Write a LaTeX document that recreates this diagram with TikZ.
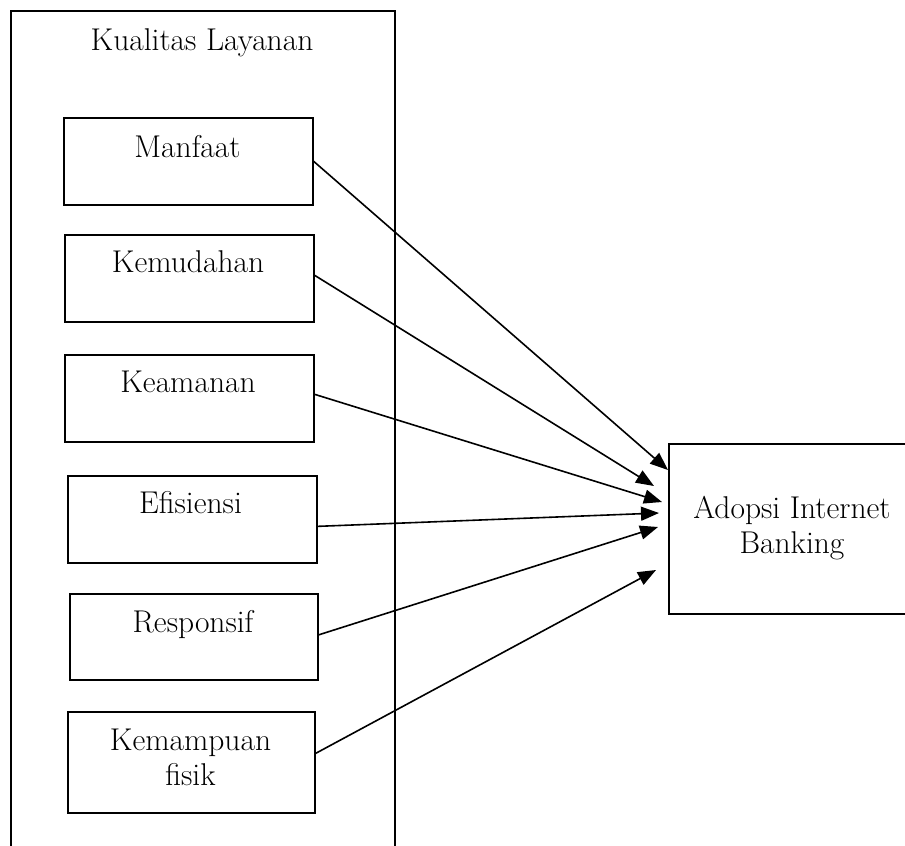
\documentclass[tikz,border=0pt]{standalone}
\usetikzlibrary{arrows.meta}
\begin{document}
\begin{tikzpicture}[x=1pt,y=-1pt,
  frame/.style={draw, line width=1.7pt, inner sep=0pt, anchor=north west},
  smallbox/.style={frame, minimum width=249pt, minimum height=87pt},
  lbl/.style={font=\fontsize{31.5}{35}\selectfont, inner sep=0pt, anchor=base, align=center},
  conn/.style={line width=1.6pt, -{Triangle[length=18pt,width=14pt]}}]
\useasboundingbox (0,0) rectangle (905,846);
% outer group
\node[frame, minimum width=384pt, minimum height=900pt] (outer) at (10,10) {};
\node[lbl] (title) at (202,50) {Kualitas Layanan};
% factor boxes
\node[smallbox] (manfaat) at (63,117) {};
\node[lbl] at (187.5,157) {Manfaat};
\node[smallbox] (kemudahan) at (64,234) {};
\node[lbl] at (188,272) {Kemudahan};
\node[smallbox] (keamanan) at (64,354) {};
\node[lbl] at (188,392) {Keamanan};
\node[smallbox] (efisiensi) at (67,475) {};
\node[lbl] at (190.5,513) {Efisiensi};
\node[smallbox, minimum width=248pt, minimum height=86pt] (responsif) at (69,593) {};
\node[lbl] at (193,632) {Responsif};
\node[smallbox, minimum width=247pt, minimum height=101pt] (fisik) at (67,711) {};
\node[lbl] at (190.5,785) {Kemampuan\\fisik};
% target
\node[frame, minimum width=248pt, minimum height=170pt] (adopsi) at (668,443) {};
\node[lbl] at (792,553) {Adopsi Internet\\Banking};
% arrow tips
\coordinate (t1) at (668,470);
\coordinate (t2) at (654,486);
\coordinate (t3) at (662,502);
\coordinate (t4) at (659,513);
\coordinate (t5) at (658,527);
\coordinate (t6) at (656,570);
\draw[conn] ([yshift=0pt]manfaat.east) -- (t1);
\draw[conn] ([yshift=3pt]kemudahan.east) -- (t2);
\draw[conn] ([yshift=4pt]keamanan.east) -- (t3);
\draw[conn] ([yshift=-7pt]efisiensi.east) -- (t4);
\draw[conn] ([yshift=2pt]responsif.east) -- (t5);
\draw[conn] ([yshift=9pt]fisik.east) -- (t6);
\end{tikzpicture}
\end{document}
